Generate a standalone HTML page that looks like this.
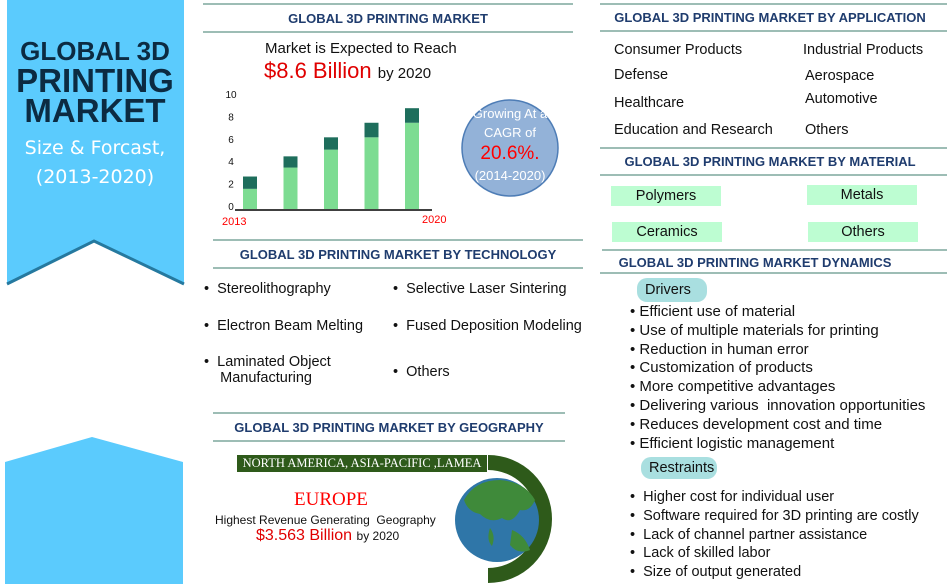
<!DOCTYPE html>
<html><head><meta charset="utf-8">
<style>
*{margin:0;padding:0;box-sizing:border-box}
body{width:947px;height:584px;background:#fff;position:relative;overflow:hidden;font-family:"Liberation Sans",Arial,sans-serif;color:#111}
.a{position:absolute;white-space:nowrap}
.ln{position:absolute;height:2px;background:#9dbdb5}
.tt{position:absolute;font-weight:bold;color:#1f3c6e;font-size:13px;text-align:center;white-space:nowrap}
.it{position:absolute;font-size:14.5px;white-space:nowrap}
.mat{position:absolute;background:#bdfdd2;font-size:14.5px;text-align:center;line-height:20px;height:20px}
.pill{position:absolute;background:#a9dfe0;border-radius:10px;font-size:14.5px;height:24px;line-height:24px;padding-left:8px}
</style></head><body>

<svg class="a" style="left:0;top:0" width="200" height="584">
<polygon points="7,0 184,0 184,284 94,241 7,284" fill="#5bcbfd"/>
<polyline points="7,284 94,241 184,284" fill="none" stroke="#25799f" stroke-width="3"/>
<polygon points="5,462 92,437 183,462 183,584 5,584" fill="#5bcbfd"/>
</svg>
<div class="a" style="left:0;width:190px;top:36px;text-align:center;color:#0c2b42;font-weight:bold;line-height:30px">
<div style="font-size:26px">GLOBAL 3D</div><div style="font-size:33px">PRINTING</div><div style="font-size:33px">MARKET</div></div>
<div class="a" style="left:0;width:190px;top:134px;text-align:center;color:#fff;font-size:19px;line-height:29px;font-family:'DejaVu Sans',sans-serif">Size &amp; Forcast,<br>(2013-2020)</div>

<div class="ln" style="left:203px;top:3px;width:370px"></div>
<div class="tt" style="left:203px;width:370px;top:11px">GLOBAL 3D PRINTING MARKET</div>
<div class="ln" style="left:203px;top:31px;width:370px"></div>
<div class="a" style="left:265px;top:40px;font-size:15px">Market is Expected to Reach</div>
<div class="a" style="left:264px;top:58px;font-size:22px;color:#e00000">$8.6 Billion <span style="font-size:15px;color:#111">by 2020</span></div>

<svg class="a" id="chart" style="left:200px;top:80px" width="260" height="150"></svg>

<svg class="a" style="left:450px;top:90px" width="130" height="120"><circle cx="60" cy="58" r="48" fill="#93b2d8" stroke="#4e7db6" stroke-width="1.5"/></svg>
<div class="a" style="left:455px;width:110px;top:104px;text-align:center;color:#fff;font-size:13px;line-height:19px">Growing At a<br>CAGR of<br><span style="color:#ff0000;font-size:19px;line-height:24px">20.6%.</span><br>(2014-2020)</div>

<div class="ln" style="left:213px;top:239px;width:370px"></div>
<div class="tt" style="left:213px;width:370px;top:247px">GLOBAL 3D PRINTING MARKET BY TECHNOLOGY</div>
<div class="ln" style="left:213px;top:267px;width:370px"></div>
<div class="it" style="left:204px;top:281px">•&nbsp; Stereolithography</div>
<div class="it" style="left:393px;top:281px">•&nbsp; Selective Laser Sintering</div>
<div class="it" style="left:204px;top:318px">•&nbsp; Electron Beam Melting</div>
<div class="it" style="left:393px;top:318px">•&nbsp; Fused Deposition Modeling</div>
<div class="it" style="left:204px;top:354px;line-height:16px">•&nbsp; Laminated Object<br>&nbsp;&nbsp;&nbsp; Manufacturing</div>
<div class="it" style="left:393px;top:364px">•&nbsp; Others</div>

<div class="ln" style="left:213px;top:412px;width:352px"></div>
<div class="tt" style="left:213px;width:352px;top:420px">GLOBAL 3D PRINTING MARKET BY GEOGRAPHY</div>
<div class="ln" style="left:213px;top:440px;width:352px"></div>
<svg class="a" style="left:430px;top:450px" width="130" height="134">
<path d="M58,5 A64,64 0 0 1 58,133 L58,118 A49,49 0 0 0 58,20 Z" fill="#2e5a1a"/>
<circle cx="67" cy="70" r="42" fill="#2f76a8"/>
<path d="M34,50 Q45,30 70,30 Q95,32 105,50 Q100,62 90,60 Q82,75 72,68 Q60,74 50,64 Q38,62 34,50Z" fill="#3f8a3a"/>
<path d="M82,80 Q95,85 100,100 Q88,105 80,95Z" fill="#3f8a3a"/>
<path d="M60,78 Q66,86 62,96 Q56,90 60,78Z" fill="#3f8a3a"/>
</svg>
<div class="a" style="left:237px;top:455px;width:250px;height:17px;background:#2e5a1a;color:#fff;font-family:'Liberation Serif',serif;font-size:12.5px;line-height:17px;text-align:center">NORTH AMERICA, ASIA-PACIFIC ,LAMEA</div>
<div class="a" style="left:294px;top:489px;font-family:'Liberation Serif',serif;color:#ff0000;font-size:19px">EUROPE</div>
<div class="a" style="left:215px;top:513px;font-size:12px">Highest Revenue Generating&nbsp; Geography</div>
<div class="a" style="left:256px;top:527px;font-size:16px;color:#e00000">$3.563 Billion <span style="font-size:12px;color:#111">by 2020</span></div>

<div class="ln" style="left:600px;top:3px;width:347px"></div>
<div class="tt" style="left:600px;width:340px;top:10px">GLOBAL 3D PRINTING MARKET BY APPLICATION</div>
<div class="ln" style="left:600px;top:30px;width:347px"></div>
<div class="it" style="left:614px;top:42px">Consumer Products</div>
<div class="it" style="left:803px;top:42px">Industrial Products</div>
<div class="it" style="left:614px;top:67px">Defense</div>
<div class="it" style="left:805px;top:68px">Aerospace</div>
<div class="it" style="left:614px;top:95px">Healthcare</div>
<div class="it" style="left:805px;top:91px">Automotive</div>
<div class="it" style="left:614px;top:122px">Education and Research</div>
<div class="it" style="left:805px;top:122px">Others</div>

<div class="ln" style="left:600px;top:147px;width:347px"></div>
<div class="tt" style="left:600px;width:340px;top:154px">GLOBAL 3D PRINTING MARKET BY MATERIAL</div>
<div class="ln" style="left:600px;top:174px;width:347px"></div>
<div class="mat" style="left:611px;top:186px;width:110px">Polymers</div>
<div class="mat" style="left:807px;top:185px;width:110px">Metals</div>
<div class="mat" style="left:612px;top:222px;width:110px">Ceramics</div>
<div class="mat" style="left:808px;top:222px;width:110px">Others</div>

<div class="ln" style="left:602px;top:249px;width:345px"></div>
<div class="tt" style="left:600px;width:310px;top:255px">GLOBAL 3D PRINTING MARKET DYNAMICS</div>
<div class="ln" style="left:600px;top:272px;width:347px"></div>
<div class="pill" style="left:637px;top:278px;width:70px">Drivers</div>
<div class="a" style="left:630px;top:303px;font-size:15px;line-height:18.8px">
• Efficient use of material<br>• Use of multiple materials for printing<br>• Reduction in human error<br>• Customization of products<br>• More competitive advantages<br>• Delivering various&nbsp; innovation opportunities<br>• Reduces development cost and time<br>• Efficient logistic management</div>
<div class="pill" style="left:641px;top:457px;width:76px;height:22px;line-height:22px">Restraints</div>
<div class="a" style="left:630px;top:488px;font-size:14.5px;line-height:18.8px">
•&nbsp; Higher cost for individual user<br>•&nbsp; Software required for 3D printing are costly<br>•&nbsp; Lack of channel partner assistance<br>•&nbsp; Lack of skilled labor<br>•&nbsp; Size of output generated</div>

<script>
const years = [2013, 2014, 2015, 2016, 2017];
const baseValues = [1.8, 3.7, 5.3, 6.4, 7.7];
const topValues = [1.1, 1.0, 1.1, 1.3, 1.3];
const yTicks = [0, 2, 4, 6, 8, 10];
const xEndLabels = ["2013", "2020"];

const svg = document.getElementById('chart');
const NS = 'http://www.w3.org/2000/svg';
const y0 = 129, unit = 11.2, x0 = 50, step = 40.5, bw = 14;
function yScale(v){ return y0 - v * unit; }
function xScale(i){ return x0 + i * step; }
function mk(tag, attrs){ const e = document.createElementNS(NS, tag); for (const k in attrs) e.setAttribute(k, attrs[k]); svg.appendChild(e); return e; }

yTicks.forEach(function(t){
  const e = mk('text', {x: 31, y: yScale(t) + 1, 'font-size': 10, 'font-family': 'Liberation Sans, sans-serif', fill: '#111', 'text-anchor': 'middle'});
  e.textContent = t;
  
  
});
years.forEach(function(yr, i){
  const b = mk('rect', {x: xScale(i) - bw/2, y: yScale(baseValues[i]), width: bw, height: baseValues[i] * unit, fill: '#7ddc92'});
  
  
  const tot = baseValues[i] + topValues[i];
  const t = mk('rect', {x: xScale(i) - bw/2, y: yScale(tot), width: bw, height: topValues[i] * unit, fill: '#1e6e5c'});
  
  
});
const ax = mk('line', {x1: 35, x2: 232, y1: y0 + 1, y2: y0 + 1, stroke: '#000', 'stroke-width': 1.5});


const l1 = mk('text', {x: 22, y: 145, 'font-size': 11, fill: '#ff0000', 'font-family': 'Liberation Sans, sans-serif'});
l1.textContent = xEndLabels[0];


const l2 = mk('text', {x: 222, y: 143, 'font-size': 11, fill: '#ff0000', 'font-family': 'Liberation Sans, sans-serif'});
l2.textContent = xEndLabels[1];


</script>
</body></html>
